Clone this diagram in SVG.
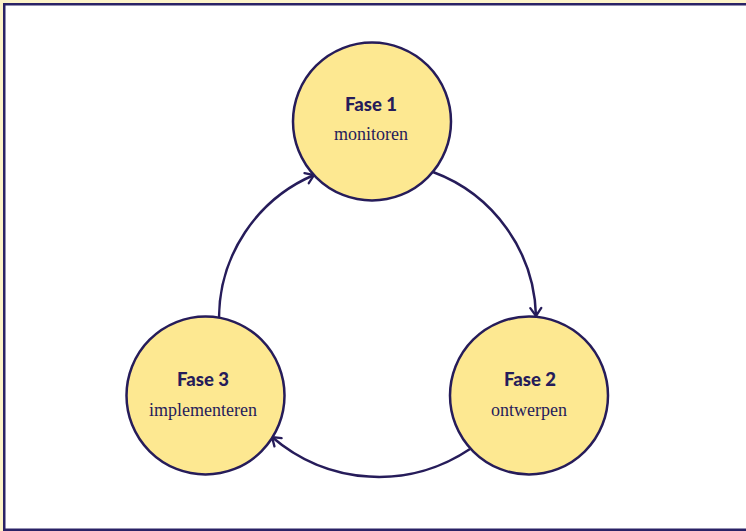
<svg xmlns="http://www.w3.org/2000/svg" width="746" height="531" viewBox="0 0 746 531">
<defs>
<style>
.node{fill:#fde891;stroke:#261c5a;stroke-width:2.5}
.edge{fill:none;stroke:#261c5a;stroke-width:2.5;marker-end:url(#arr)}
.t1{font-family:Lato,"Open Sans","Liberation Sans",sans-serif;font-weight:900;font-size:18.5px;fill:#261c5a;text-anchor:middle}
.t2{font-family:"Liberation Serif",serif;font-size:18px;fill:#261c5a;text-anchor:middle}
</style>
<marker id="arr" markerUnits="userSpaceOnUse" markerWidth="14" markerHeight="14" viewBox="-10 -7 12 14" refX="0" refY="0" orient="auto">
<path d="M-8,-5.5 L0,0 L-8,5.5" fill="none" stroke="#261c5a" stroke-width="2.3" stroke-linecap="round" stroke-linejoin="miter"/>
</marker>
</defs>
<rect x="0" y="0" width="746" height="531" fill="#fdf3c8"/>
<rect x="3" y="3" width="743" height="528" fill="#ffffff"/>
<rect x="4.25" y="4.25" width="760" height="525.5" fill="none" stroke="#2a2266" stroke-width="2.5"/>
<g id="connectors">
<path class="edge" d="M433,172 A158,158 0 0 1 536,316"/>
<path class="edge" d="M470,449 A163,163 0 0 1 272,437"/>
<path class="edge" d="M219,318 A156,156 0 0 1 314,175"/>
</g>
<g id="fase1">
<circle class="node" cx="372" cy="121.5" r="79"/>
<text class="t1" x="371" y="111">Fase 1</text>
<text class="t2" x="371" y="140">monitoren</text>
</g>
<g id="fase2">
<circle class="node" cx="529" cy="395.5" r="79"/>
<text class="t1" x="530" y="386">Fase 2</text>
<text class="t2" x="529" y="416">ontwerpen</text>
</g>
<g id="fase3">
<circle class="node" cx="205.5" cy="395.5" r="79"/>
<text class="t1" x="203" y="386">Fase 3</text>
<text class="t2" x="203" y="416">implementeren</text>
</g>
</svg>
